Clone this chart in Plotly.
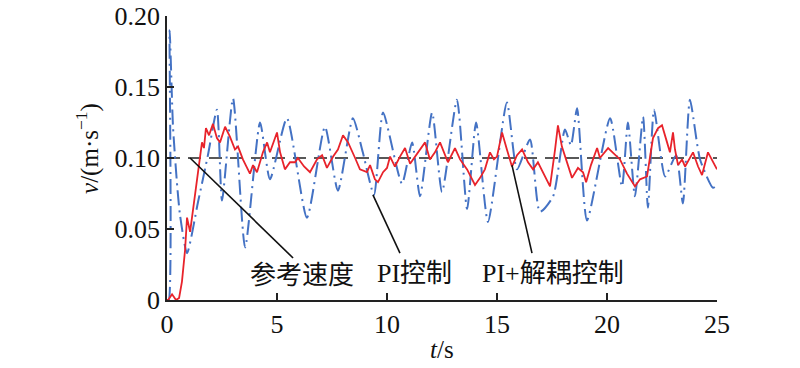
import plotly.graph_objects as go

# Time axis ticks
x_ticks = [0, 5, 10, 15, 20, 25]
x_tick_text = ["0", "5", "10", "15", "20", "25"]
y_ticks = [0, 0.05, 0.10, 0.15, 0.20]
y_tick_text = ["0", "0.05", "0.10", "0.15", "0.20"]

# Reference speed
ref_t = [0, 25]
ref_v = [0.1, 0.1]

# PI control (blue dash-dot)
pi_t = [0, 0.08, 0.12, 0.27, 0.45, 0.59, 0.91, 1.41, 1.86, 2.27, 2.5, 3.0, 3.55, 4.23, 4.68,
        5.45, 6.36, 7.18, 7.77, 8.45, 8.9, 9.41, 9.82, 10.68, 11.14, 11.5, 12.05, 12.5,
        13.18, 13.64, 14.05, 14.59, 15.45, 15.91, 16.5, 16.95, 17.55, 18.09, 18.36, 18.64,
        19.09, 20.14, 20.68, 20.95, 21.27, 21.64, 21.86, 22.14, 22.64, 23.14, 23.45, 23.77,
        24.23, 24.82, 25.0]
pi_v = [0, 0, 0.19, 0.123, 0.083, 0.06, 0.033, 0.069, 0.102, 0.134, 0.070, 0.142, 0.037,
        0.125, 0.085, 0.128, 0.058, 0.122, 0.077, 0.128, 0.104, 0.074, 0.132, 0.082, 0.111,
        0.073, 0.132, 0.076, 0.141, 0.064, 0.125, 0.055, 0.139, 0.092, 0.113, 0.062, 0.073,
        0.120, 0.109, 0.135, 0.056, 0.128, 0.080, 0.125, 0.073, 0.129, 0.065, 0.134, 0.087,
        0.102, 0.068, 0.141, 0.099, 0.079, 0.081]

# PI + decoupling control (red solid)
dec_t = [0, 0.05, 0.23, 0.41, 0.55, 0.68, 0.82, 0.91, 1.05, 1.18, 1.32, 1.45, 1.59, 1.68,
         1.77, 1.91, 2.09, 2.27, 2.41, 2.64, 2.86, 3.09, 3.23, 3.45, 3.77, 3.91, 4.09, 4.36,
         4.55, 4.68, 5.0, 5.14, 5.36, 5.59, 5.82, 5.95, 6.23, 6.5, 6.82, 7.05, 7.27, 7.55,
         7.77, 8.0, 8.23, 8.55, 8.77, 9.09, 9.23, 9.45, 9.59, 9.82, 10.0, 10.14, 10.36,
         10.59, 10.82, 11.05, 11.27, 11.5, 11.73, 11.95, 12.18, 12.41, 12.64, 12.77, 13.09,
         13.32, 13.64, 14.0, 14.23, 14.45, 14.68, 14.86, 15.0, 15.23, 15.45, 15.68, 15.91,
         16.14, 16.41, 16.64, 16.86, 17.09, 17.41, 17.64, 17.77, 17.95, 18.18, 18.41, 18.68,
         18.91, 19.05, 19.27, 19.55, 19.68, 20.05, 20.27, 20.59, 20.91, 21.27, 21.5, 21.82,
         21.95, 22.09, 22.32, 22.5, 22.73, 22.86, 23.0, 23.09, 23.23, 23.41, 23.55, 23.91,
         24.14, 24.32, 24.59, 24.91, 25.0]
dec_v = [0, 0, 0.004, 0, 0.0014, 0.013, 0.035, 0.058, 0.048, 0.063, 0.081, 0.093, 0.111,
         0.107, 0.121, 0.116, 0.124, 0.114, 0.111, 0.122, 0.115, 0.106, 0.108, 0.099, 0.089,
         0.095, 0.090, 0.104, 0.111, 0.104, 0.118, 0.104, 0.092, 0.097, 0.097, 0.100, 0.094,
         0.090, 0.099, 0.102, 0.093, 0.101, 0.106, 0.116, 0.111, 0.100, 0.092, 0.090, 0.095,
         0.085, 0.083, 0.090, 0.093, 0.101, 0.094, 0.101, 0.107, 0.096, 0.101, 0.106, 0.111,
         0.099, 0.104, 0.111, 0.102, 0.097, 0.107, 0.099, 0.092, 0.081, 0.086, 0.092, 0.104,
         0.099, 0.101, 0.118, 0.106, 0.094, 0.102, 0.106, 0.097, 0.092, 0.097, 0.090, 0.080,
         0.106, 0.123, 0.108, 0.097, 0.086, 0.093, 0.090, 0.083, 0.095, 0.107, 0.100, 0.107,
         0.104, 0.099, 0.089, 0.080, 0.085, 0.087, 0.100, 0.114, 0.121, 0.123, 0.111, 0.104,
         0.118, 0.106, 0.095, 0.099, 0.094, 0.104, 0.094, 0.088, 0.104, 0.094, 0.092]

labels = ["参考速度", "PI控制", "PI+解耦控制"]

FONT = "Liberation Serif, Times New Roman, Noto Sans CJK SC, serif"
AXC = "#222222"

fig = go.Figure()
fig.add_trace(go.Scatter(x=ref_t, y=ref_v, mode="lines",
                         line=dict(color="#222222", width=1.6, dash="13px,8px"),
                         showlegend=False))
fig.add_trace(go.Scatter(x=pi_t, y=pi_v, mode="lines",
                         line=dict(color="#4472C4", width=2, dash="15px,5px,2px,5px",
                                   shape="spline", smoothing=0.6),
                         showlegend=False))
fig.add_trace(go.Scatter(x=dec_t, y=dec_v, mode="lines",
                         line=dict(color="#E8232B", width=1.8),
                         showlegend=False))

# leader lines
leaders = [((1.05, 0.1), (5.73, 0.0296)),
           ((9.36, 0.074), (10.59, 0.033)),
           ((15.68, 0.095), (16.59, 0.033))]
for (x0, y0), (x1, y1) in leaders:
    fig.add_shape(type="line", x0=x0, y0=y0, x1=x1, y1=y1, xref="x", yref="y",
                  line=dict(color="#111111", width=1.6))

label_pos = [(6.14, 0.0176), (11.27, 0.0185), (17.55, 0.0185)]
for txt, (lx, ly) in zip(labels, label_pos):
    fig.add_annotation(x=lx, y=ly, xref="x", yref="y", text=txt, showarrow=False,
                       font=dict(family=FONT, size=26, color="#111111"),
                       xanchor="center", yanchor="middle")

# axis titles
fig.add_annotation(x=-0.1436, y=0.532, xref="paper", yref="paper",
                   text="<i>v</i>/(m·s<sup>−1</sup>)", textangle=-90, showarrow=False,
                   font=dict(family=FONT, size=25, color="#111111"),
                   xanchor="center", yanchor="middle")
fig.add_annotation(x=0.5, y=-0.176, xref="paper", yref="paper",
                   text="<i>t</i>/s", showarrow=False,
                   font=dict(family=FONT, size=25, color="#111111"),
                   xanchor="center", yanchor="middle")

fig.update_xaxes(range=[0, 25], tickvals=x_ticks, ticktext=x_tick_text,
                 showline=True, linecolor=AXC, linewidth=1.6, ticks="inside",
                 ticklen=7, tickwidth=1.5, tickcolor=AXC, showgrid=False, zeroline=False,
                 tickfont=dict(family=FONT, size=26, color="#111111"), mirror=False,
                 automargin=False, ticklabeloverflow="allow")
fig.update_yaxes(range=[0, 0.2], tickvals=y_ticks, ticktext=y_tick_text,
                 showline=True, linecolor=AXC, linewidth=1.6, ticks="inside",
                 ticklen=7, tickwidth=1.5, tickcolor=AXC, showgrid=False, zeroline=False,
                 tickfont=dict(family=FONT, size=26, color="#111111"), mirror=False,
                 automargin=False, ticklabeloverflow="allow")

fig.update_layout(width=800, height=368, margin=dict(l=167, r=83, t=16, b=68),
                  plot_bgcolor="white", paper_bgcolor="white", showlegend=False)

fig.write_html("out.html", config={"displayModeBar": False},
               post_script="document.body.style.margin='0';")
